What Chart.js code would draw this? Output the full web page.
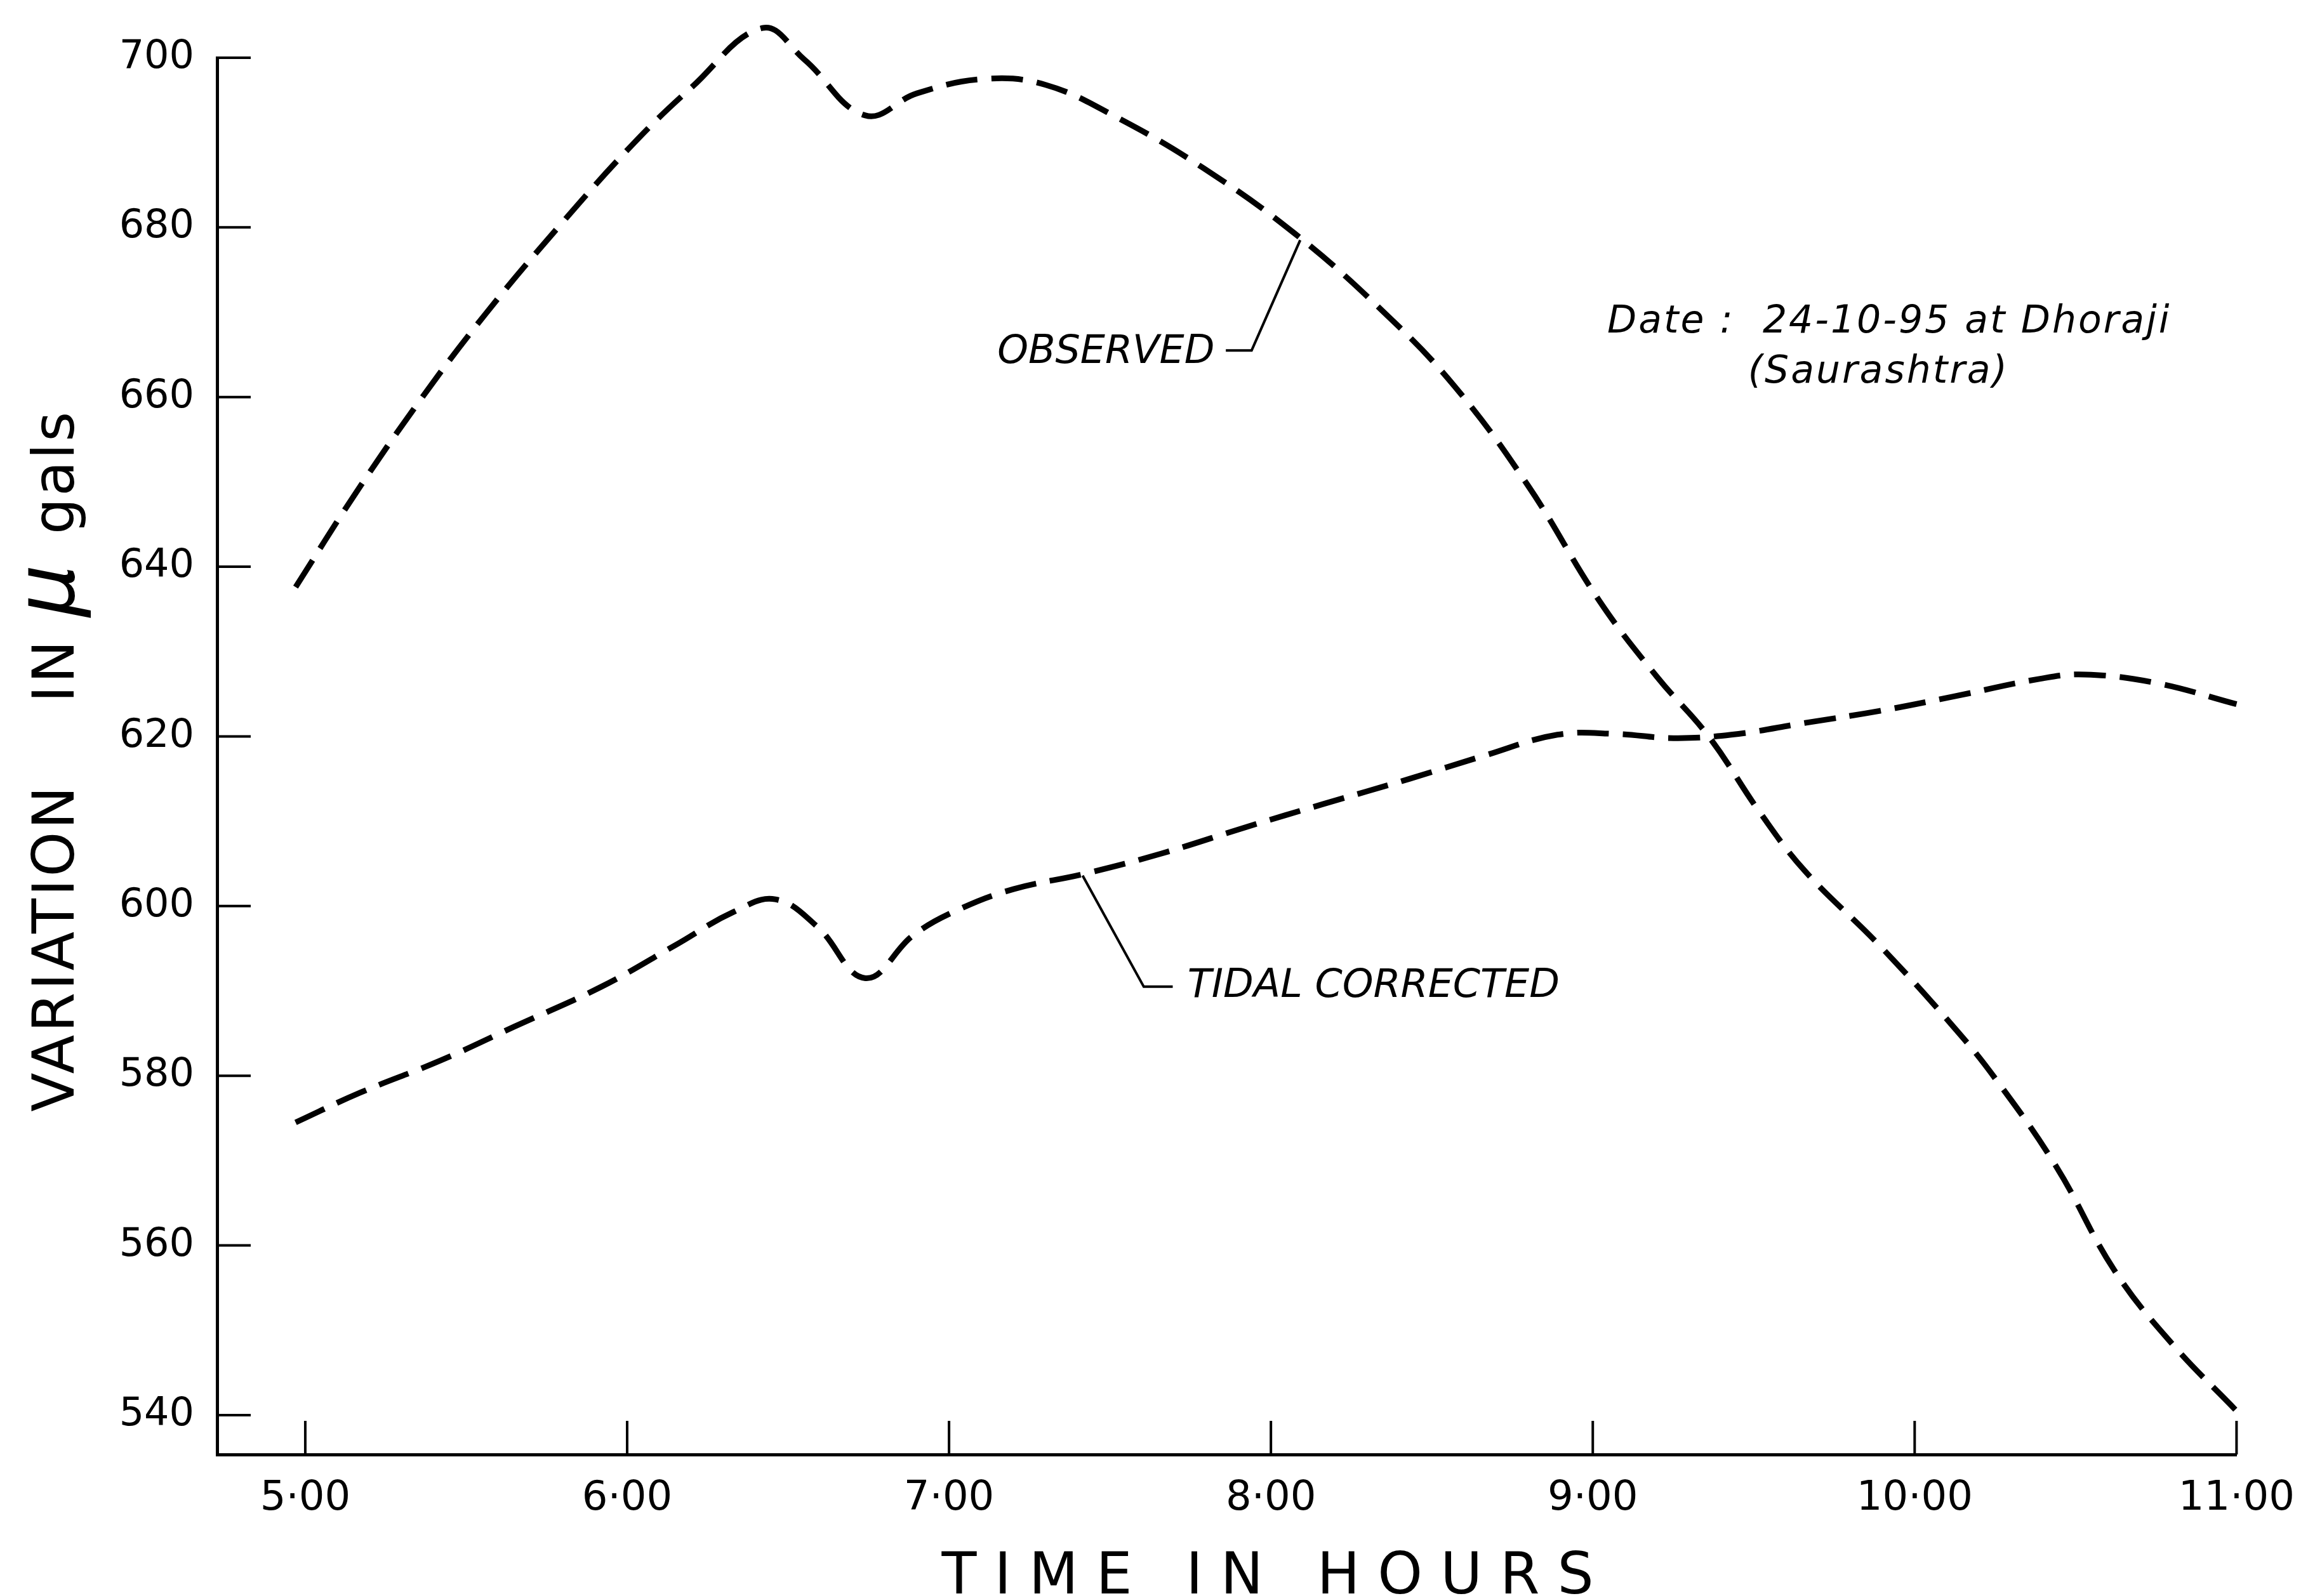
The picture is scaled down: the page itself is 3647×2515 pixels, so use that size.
<!DOCTYPE html>
<html>
<head>
<meta charset="utf-8">
<script src="https://cdn.jsdelivr.net/npm/chart.js@4.4.1/dist/chart.umd.min.js"></script>
<style>
  html, body { margin: 0; padding: 0; background: #fff; }
  #wrap { width: 3647px; height: 2515px; position: relative; }
</style>
</head>
<body>
<div id="wrap"><canvas id="gravity_chart"></canvas></div>
<script>
// readings: time in hours, variation in micro gals
const OBS_HOURS = [4.97, 5.15, 5.36, 5.56, 5.79, 6.02, 6.20, 6.42, 6.55, 6.74, 6.90, 7.11, 7.30, 7.52, 7.79, 8.07, 8.34, 8.57, 8.80, 9.02, 9.20, 9.36, 9.52, 9.66, 9.89, 10.12, 10.25, 10.44, 10.62, 10.80, 11.0];
const OBS_GALS  = [637.6, 648.3, 659.8, 669.8, 680.2, 689.9, 696.5, 703.5, 699.8, 693.2, 695.8, 697.5, 696.8, 693.0, 687.0, 679.4, 670.4, 661.3, 649.5, 636.0, 627.0, 620.0, 611.0, 604.1, 595.4, 585.8, 579.7, 569.3, 557.1, 548.4, 540.5];

const TIDAL_HOURS = [4.97, 5.17, 5.42, 5.65, 5.92, 6.15, 6.33, 6.46, 6.59, 6.74, 6.89, 7.03, 7.20, 7.42, 7.66, 7.93, 8.16, 8.43, 8.66, 8.89, 9.07, 9.25, 9.43, 9.66, 9.89, 10.12, 10.39, 10.53, 10.75, 11.0];
const TIDAL_GALS  = [574.5, 578.0, 581.8, 585.8, 590.5, 595.4, 599.3, 600.8, 597.6, 591.5, 596.6, 599.6, 602.0, 603.8, 606.2, 609.4, 612.0, 615.0, 617.7, 620.2, 620.3, 619.8, 620.2, 621.6, 623.0, 624.7, 626.8, 627.3, 626.3, 623.8];

const HOUR_TICKS = [5, 6, 7, 8, 9, 10, 11];
const GAL_TICKS = [540, 560, 580, 600, 620, 640, 660, 680, 700];

const INK = '#000';
const FAMILY = "'DejaVu Sans', sans-serif";

function toPoints(xs, ys) {
  return xs.map((x, i) => ({ x: x, y: ys[i] }));
}

// inside tick marks, leader lines, lettering
const inkPlugin = {
  id: 'ink',
  afterDraw(chart) {
    const ctx = chart.ctx;
    const area = chart.chartArea;
    const px = h => chart.scales.x.getPixelForValue(h);
    const py = v => chart.scales.y.getPixelForValue(v);

    ctx.save();
    ctx.strokeStyle = INK;
    ctx.fillStyle = INK;
    ctx.setLineDash([]);
    ctx.lineWidth = 4;

    HOUR_TICKS.forEach(h => {
      ctx.beginPath();
      ctx.moveTo(px(h), area.bottom);
      ctx.lineTo(px(h), area.bottom - 53);
      ctx.stroke();
    });
    GAL_TICKS.forEach(v => {
      ctx.beginPath();
      ctx.moveTo(area.left, py(v));
      ctx.lineTo(area.left + 53, py(v));
      ctx.stroke();
    });

    // leaders
    ctx.beginPath();
    ctx.moveTo(px(7.86), py(665.5));
    ctx.lineTo(px(7.94), py(665.5));
    ctx.lineTo(px(8.091), py(678.5));
    ctx.stroke();

    ctx.beginPath();
    ctx.moveTo(px(7.415), py(603.6));
    ctx.lineTo(px(7.605), py(590.5));
    ctx.lineTo(px(7.695), py(590.5));
    ctx.stroke();

    // labels on the curves
    ctx.font = 'italic 62px ' + FAMILY;
    ctx.textBaseline = 'middle';
    ctx.textAlign = 'right';
    ctx.fillText('OBSERVED', px(7.825), py(665.2));
    ctx.textAlign = 'left';
    ctx.fillText('TIDAL CORRECTED', px(7.741), py(590.5));

    ctx.font = 'italic 60px ' + FAMILY;
    ctx.letterSpacing = '3px';
    ctx.fillText('Date :  24-10-95 at Dhoraji', px(9.045), py(668.8));
    ctx.fillText('(Saurashtra)', px(9.482), py(662.9));

    // x axis title
    ctx.font = '90px ' + FAMILY;
    ctx.letterSpacing = '28px';
    ctx.textAlign = 'center';
    ctx.textBaseline = 'alphabetic';
    ctx.fillText('TIME IN HOURS', px(7.99) + 14, 2511);

    // y axis title, read bottom to top
    ctx.translate(116, 1752);
    ctx.rotate(-Math.PI / 2);
    ctx.textAlign = 'left';
    ctx.letterSpacing = '4px';
    ctx.font = '90px ' + FAMILY;
    ctx.fillText('VARIATION', 0, 0);
    ctx.fillText('IN', 645, 0);
    ctx.letterSpacing = '0px';
    ctx.font = 'italic 130px ' + FAMILY;
    ctx.fillText('\u03bc', 780, 0);
    ctx.font = '90px ' + FAMILY;
    ctx.letterSpacing = '3px';
    ctx.fillText('gals', 910, 0);

    ctx.restore();
  }
};

const lineStyle = {
  borderColor: INK,
  borderWidth: 9,
  borderDash: [50, 22],
  pointRadius: 0,
  fill: false,
  tension: 0.4,
  clip: false
};

new Chart(document.getElementById('gravity_chart'), {
  type: 'line',
  data: {
    datasets: [
      Object.assign({ label: 'OBSERVED', data: toPoints(OBS_HOURS, OBS_GALS) }, lineStyle),
      Object.assign({ label: 'TIDAL CORRECTED', data: toPoints(TIDAL_HOURS, TIDAL_GALS) }, lineStyle)
    ]
  },
  options: {
    responsive: true,
    maintainAspectRatio: false,
    animation: false,
    layout: {
      padding: { top: 91, right: 102, left: 0, bottom: 0 }
    },
    plugins: {
      legend: { display: false },
      tooltip: { enabled: false }
    },
    scales: {
      x: {
        type: 'linear',
        min: 4.726,
        max: 11,
        grid: { display: false, drawTicks: false },
        border: { display: true, color: INK, width: 5 },
        afterBuildTicks: s => { s.ticks = HOUR_TICKS.map(v => ({ value: v })); },
        afterFit: s => { s.height = 223; },
        ticks: {
          color: INK,
          font: { family: FAMILY, size: 64 },
          padding: 32,
          maxRotation: 0,
          autoSkip: false,
          callback: v => v + '\u00b700'
        }
      },
      y: {
        type: 'linear',
        min: 535.36,
        max: 700,
        grid: { display: false, drawTicks: false },
        border: { display: true, color: INK, width: 5 },
        afterBuildTicks: s => { s.ticks = GAL_TICKS.map(v => ({ value: v })); },
        afterFit: s => { s.width = 342; },
        ticks: {
          color: INK,
          font: { family: FAMILY, size: 62 },
          padding: 36,
          autoSkip: false,
          callback: v => String(v)
        }
      }
    }
  },
  plugins: [inkPlugin]
});
</script>
</body>
</html>
